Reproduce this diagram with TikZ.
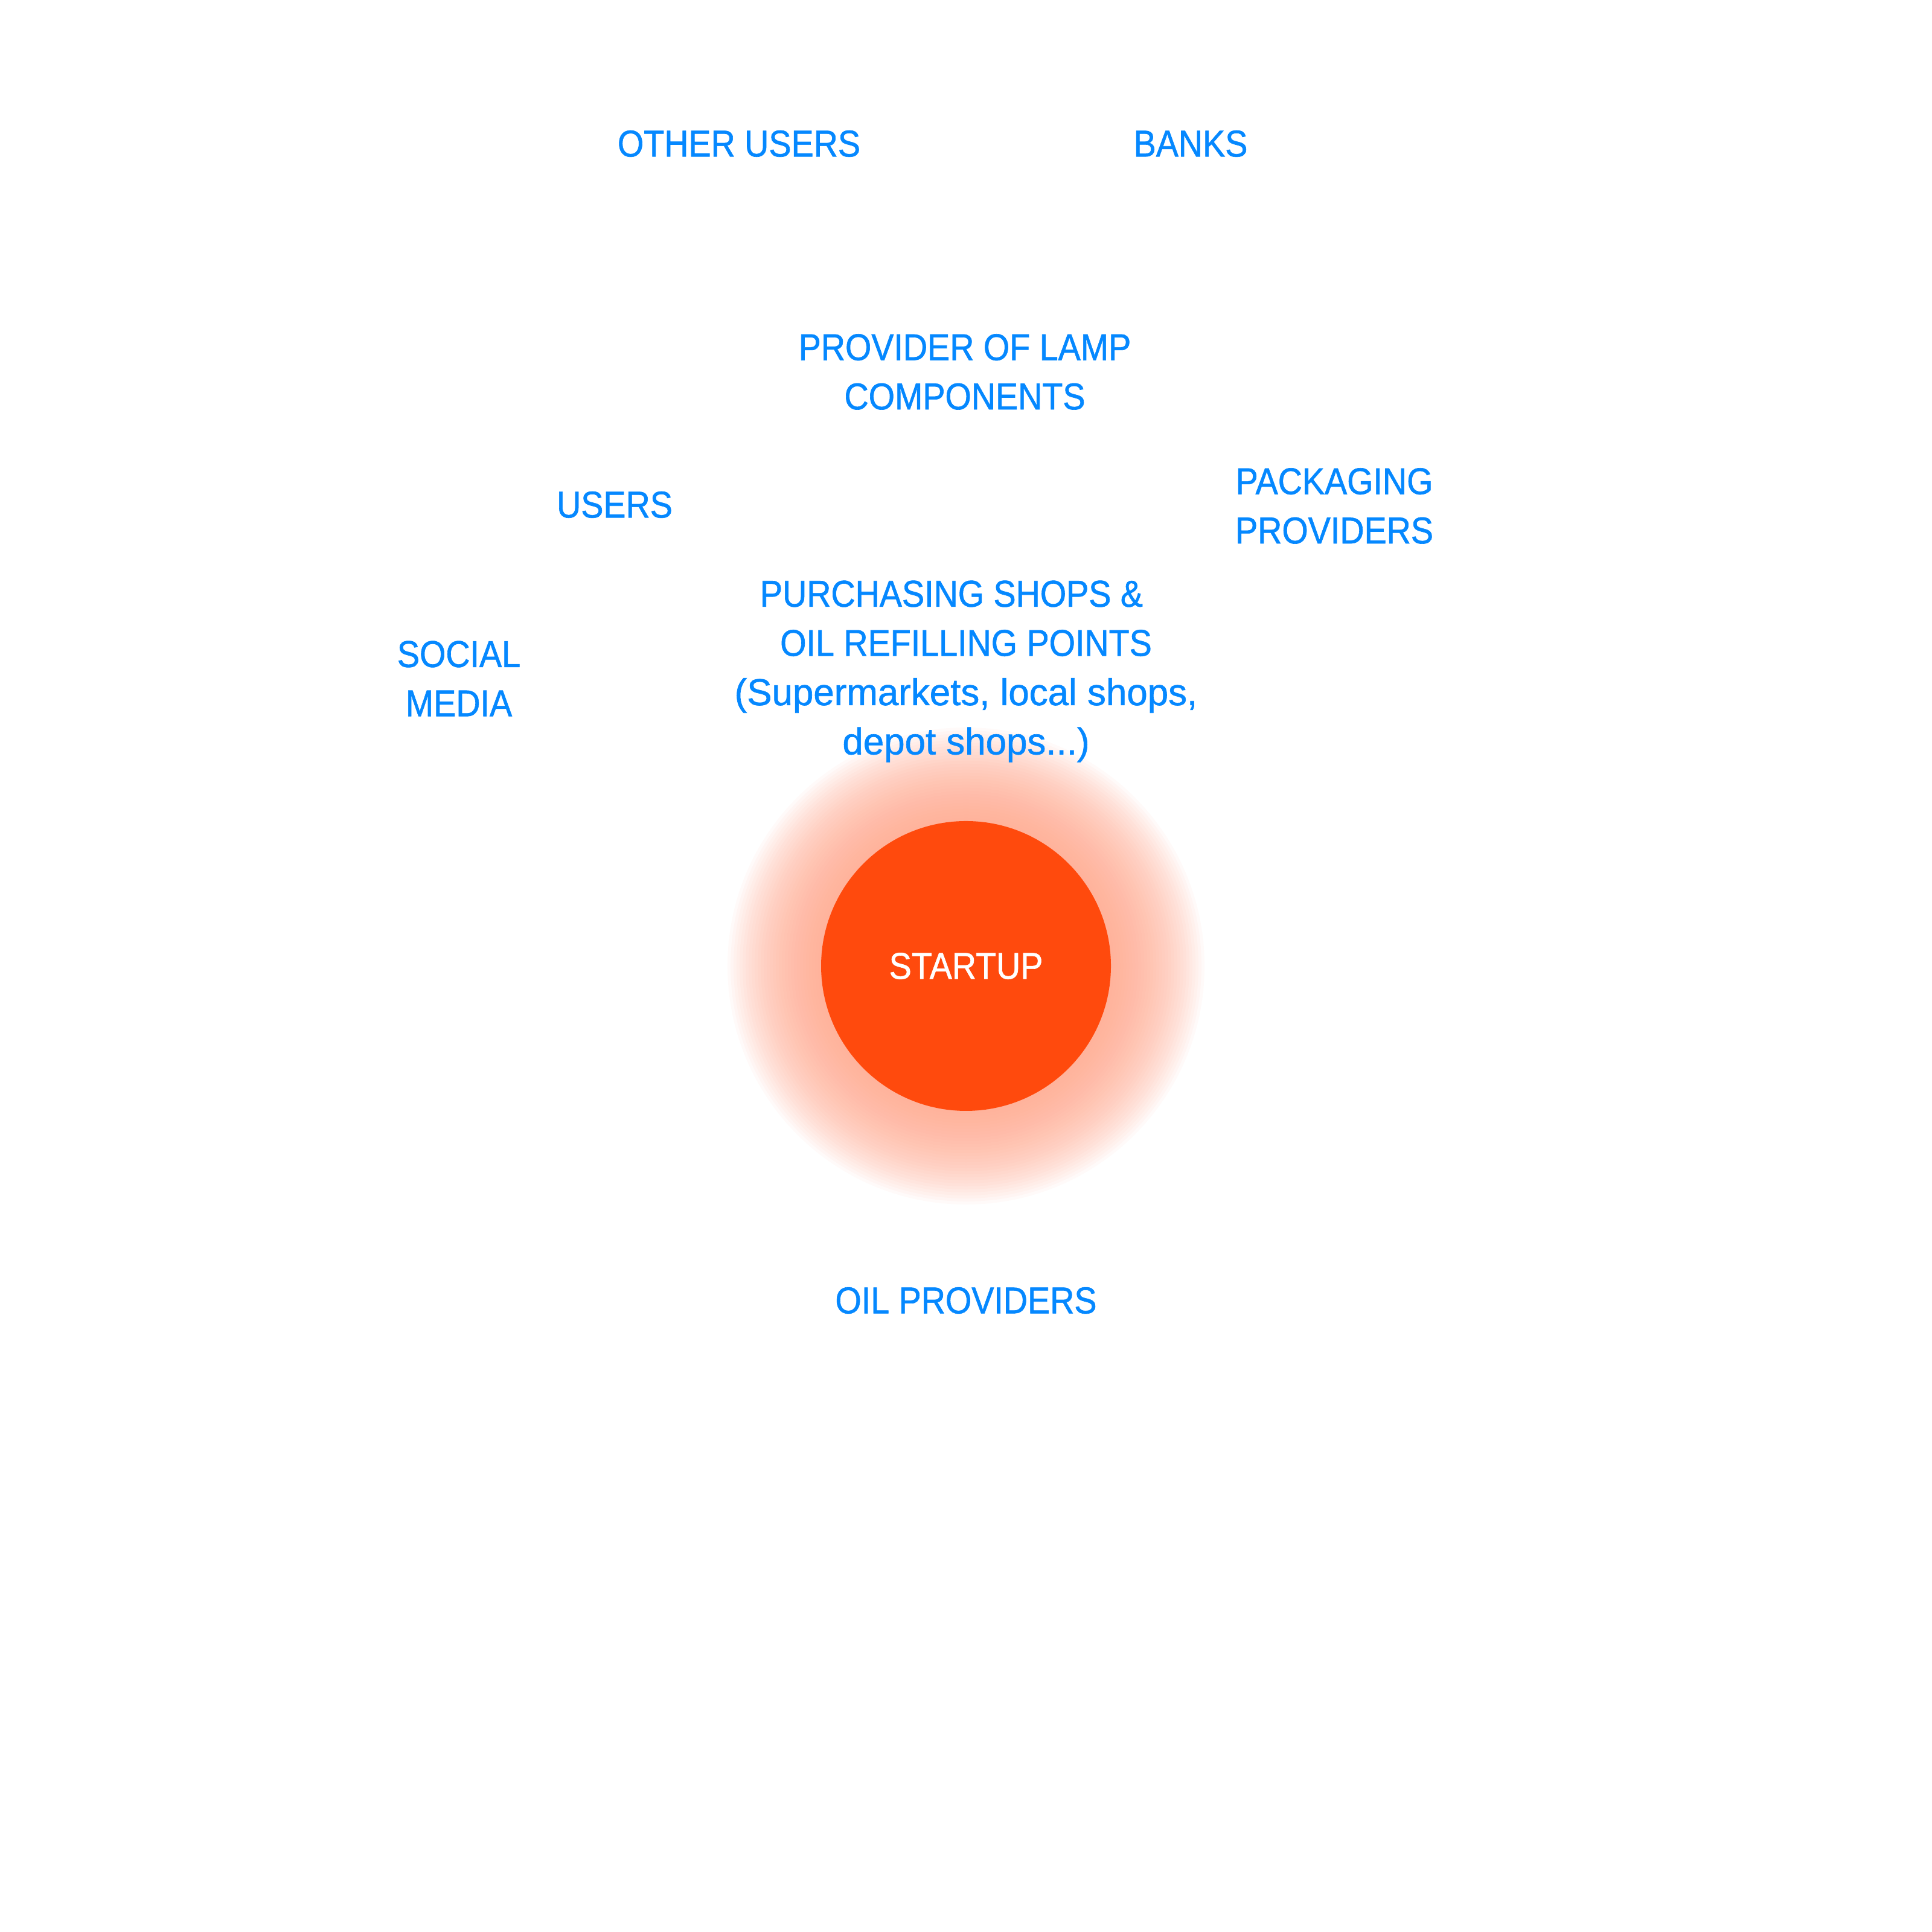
\documentclass[tikz,border=0pt]{standalone}
\usepackage{fontspec}
\setmainfont{Liberation Sans}[FakeStretch=0.9, FakeBold=1.0]
\newfontfamily\widefont{Liberation Sans}[FakeBold=1.0]
\definecolor{linkblue}{HTML}{0588FF}
\definecolor{startorange}{HTML}{FF4A0D}
\definecolor{glowpeach}{HTML}{FFA88C}
\tikzset{
	stakeholder/.style={text=linkblue, align=center, inner sep=0pt, font=\fontsize{8.8}{11.6}\selectfont},
	core/.style={circle, fill=startorange, minimum size=2.4cm, text=white, font=\fontsize{8.8}{11.6}\selectfont}
}
\begin{document}
\begin{tikzpicture}
	\useasboundingbox[fill=white] (0,0) rectangle (16,16);
	\coordinate (o) at (8,8);
	% soft halo round the startup
	\foreach \r in {1.2,1.225,...,1.98}
		\fill[glowpeach, fill opacity=0.05] (o) circle (\r);
	\node[core] (startup) at (o) {STARTUP};
	\node[stakeholder] (otherusers) at (6.12,14.81) {OTHER USERS};
	\node[stakeholder] (banks) at (9.86,14.81) {BANKS};
	\node[stakeholder] (lamp) at (7.99,12.92) {PROVIDER OF LAMP\\COMPONENTS};
	\node[stakeholder] (users) at (5.09,11.82) {USERS};
	\node[stakeholder] (packaging) at (11.05,11.81) {PACKAGING\\PROVIDERS};
	\node[stakeholder] (shops) at (8.0,10.44) {PURCHASING SHOPS \&\hspace*{0.24cm}\\OIL REFILLING POINTS\\{\widefont(Supermarkets, local shops,}\\{\widefont depot shops...)}};
	\node[stakeholder] (social) at (3.80,10.38) {SOCIAL\\MEDIA};
	\node[stakeholder] (oil) at (8.0,5.23) {OIL PROVIDERS};
\end{tikzpicture}
\end{document}
